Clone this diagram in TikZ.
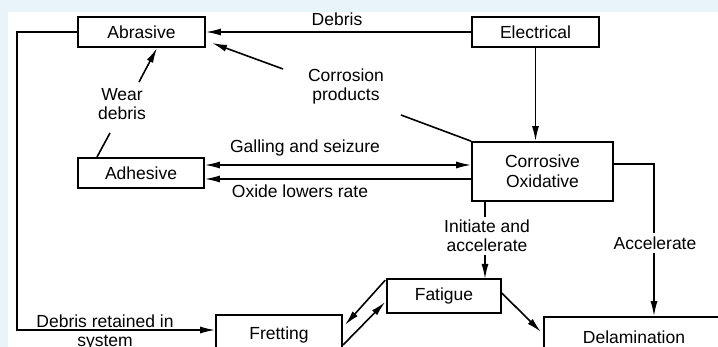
\documentclass[tikz,border=0pt]{standalone}
\usepackage{fontspec}
\setmainfont{Liberation Sans}
\usetikzlibrary{arrows.meta,calc}
\definecolor{bgblue}{RGB}{232,244,250}
\begin{document}
\begin{tikzpicture}[x=1pt,y=-1pt,
  box/.style={draw,line width=1.6pt,rectangle,inner sep=0pt,align=center,font=\fontsize{17.5}{20}\selectfont},
  lbl/.style={inner sep=0pt,align=center,font=\fontsize{17.5}{19}\selectfont},
  conn/.style={line width=1.6pt},
  arr/.style={conn,-{Latex[length=15pt,width=7pt]}},
  darr/.style={conn,{Latex[length=15pt,width=7pt]}-{Latex[length=15pt,width=7pt]}}]
\useasboundingbox (0,0) rectangle (718,347);
\clip (0,0) rectangle (718,347);
\fill[bgblue] (0,0) rectangle (718,347);
\fill[white] (8,12) rectangle (718,347);

% boxes
\node[box,minimum width=127pt,minimum height=30pt] (abr) at (141.5,32) {Abrasive};
\node[box,minimum width=127pt,minimum height=30pt] (elec) at (535.5,32) {Electrical};
\node[box,minimum width=141pt,minimum height=59pt] (cor) at (542.5,171.5) {Corrosive\\Oxidative};
\node[box,minimum width=126pt,minimum height=30pt] (adh) at (141,173) {Adhesive};
\node[box,minimum width=114pt,minimum height=34pt] (fat) at (444,296) {Fatigue};
\node[box,minimum width=126pt,minimum height=40pt] (fret) at (279,335) {Fretting};
\node[box,minimum width=180pt,minimum height=40pt] (del) at (634,337) {Delamination};

% coordinates
\coordinate (cp1) at (401,115);
\coordinate (cp2) at (283,69);
\coordinate (cp3) at (212,43);
\coordinate (wd1) at (97,157);
\coordinate (wd2) at (110,133);
\coordinate (wd3) at (139,82);
\coordinate (wd4) at (157,48);
\coordinate (lp1) at (17,32);
\coordinate (lp2) at (17,330);
\coordinate (ac1) at (654,164);
\coordinate (g1) at ($(adh.east)+(0,-8)$);
\coordinate (o1) at ($(adh.east)+(0,6)$);
\coordinate (in1) at (485,201);
\coordinate (in2) at (485,279);

% Debris
\draw[arr] (elec.west) -- (abr.east);
\node[lbl] (tdeb) at (337,19) {Debris};

% Corrosion products
\draw[conn] (cor.north west) -- (cp1);
\draw[arr] (cp2) -- (cp3);
\node[lbl] (tcp) at (346,86) {Corrosion\\products};

% Electrical to corrosive
\draw[arr] (elec.south) -- (elec.south |- cor.north);

% Wear debris
\draw[conn] (wd1) -- (wd2);
\draw[arr] (wd3) -- (wd4);
\node[lbl] (twd) at (122,104) {Wear\\debris};

% Galling and seizure
\draw[darr] (g1) -- (g1 -| cor.west);
\node[lbl] (tgal) at (305,148) {Galling and seizure};

% Oxide lowers rate
\draw[arr] (o1 -| cor.west) -- (o1);
\node[lbl] (tox) at (300,191) {Oxide lowers rate};

% Left loop
\draw[arr] (abr.west) -- (lp1) -- (lp2) -- (lp2 -| fret.west);
\node[lbl] (tret) at (105,332) {Debris retained in\\system};

% Initiate and accelerate
\draw[arr] (in1) -- (in2);
\node[lbl,fill=white,inner sep=3pt] (tin) at (487,236) {Initiate and\\accelerate};

% Accelerate
\draw[arr] (cor.east |- ac1) -- (ac1) -- (ac1 |- del.north);
\node[lbl,fill=white,inner sep=4pt] (tacc) at (655,243) {Accelerate};

% Fatigue to delamination
\draw[arr] ($(fat.east)+(0,-3)$) -- (541,332);

% Fatigue <-> Fretting
\draw[arr] ($(fat.north west)+(-1,2)$) -- (345,325);
\draw[arr] (343,345) -- ($(fat.west)+(-1,6)$);
\end{tikzpicture}
\end{document}
